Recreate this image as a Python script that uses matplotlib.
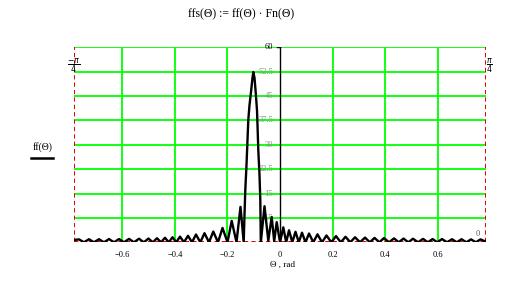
import numpy as np
import matplotlib
matplotlib.use('Agg')
import matplotlib.pyplot as plt
from matplotlib.lines import Line2D

# curve vertices (peaks and nulls of every lobe)
theta = [-0.7854, -0.7657, -0.7467, -0.7276, -0.7086, -0.6895, -0.6705, -0.6514,
         -0.6324, -0.6133, -0.5943, -0.5752, -0.5562, -0.5371, -0.5189, -0.5010,
         -0.4846, -0.4686, -0.4533, -0.4381, -0.4236, -0.4095, -0.3951, -0.3810,
         -0.3657, -0.3505, -0.3352, -0.3200, -0.3036, -0.2876, -0.2705, -0.2541,
         -0.2362, -0.2190, -0.2000, -0.1840, -0.1657, -0.1505, -0.1383,
         # main lobe
         -0.1352, -0.1322, -0.1276, -0.1238, -0.1208, -0.1162, -0.1105, -0.1048,
         -0.1017, -0.0971, -0.0926, -0.0876, -0.0857, -0.0827, -0.0781, -0.0750,
         -0.0731,
         # right side lobes
         -0.0590, -0.0446, -0.0316, -0.0221, -0.0126, 0.0000, 0.0126, 0.0236,
         0.0343, 0.0469, 0.0590, 0.0716, 0.0838, 0.0971, 0.1105, 0.1269,
         0.1429, 0.1600, 0.1771, 0.1954, 0.2133, 0.2316, 0.2495, 0.2678,
         0.2857, 0.3048, 0.3238, 0.3421, 0.3600, 0.3783, 0.3962, 0.4152,
         0.4343, 0.4524, 0.4705, 0.4886, 0.5067, 0.5257, 0.5448, 0.5630,
         0.5810, 0.5990, 0.6171, 0.6362, 0.6552, 0.6735, 0.6914, 0.7097,
         0.7276, 0.7459, 0.7638, 0.7810, 0.7854]
ffs = [0.7, 0.9, 0.0, 0.95, 0.0, 0.95, 0.0, 1.0,
       0.0, 1.0, 0.0, 1.05, 0.0, 1.1, 0.0, 1.15,
       0.0, 1.25, 0.0, 1.4, 0.0, 1.55, 0.0, 1.75,
       0.0, 2.0, 0.0, 2.4, 0.0, 2.8, 0.0, 3.3,
       0.0, 4.4, 0.0, 6.6, 0.0, 10.9, 0.0,
       8.4, 16.1, 23.8, 31.5, 37.6, 42.2, 46.2, 50.6,
       52.4, 50.6, 46.2, 40.6, 36.1, 28.4, 20.7, 13.0,
       0.0,
       11.1, 0.5, 7.8, 0.3, 6.2, 0.0, 4.6, 0.0,
       3.7, 0.0, 3.25, 0.0, 2.95, 0.0, 2.7, 0.0,
       2.45, 0.0, 2.1, 0.0, 1.9, 0.0, 1.7, 0.0,
       1.55, 0.0, 1.45, 0.0, 1.35, 0.0, 1.3, 0.0,
       1.2, 0.0, 1.15, 0.0, 1.1, 0.0, 1.05, 0.0,
       1.0, 0.0, 1.0, 0.0, 0.95, 0.0, 0.95, 0.0,
       0.9, 0.0, 0.9, 0.3, 0.5]

x_ticks = [-0.6, -0.4, -0.2, 0, 0.2, 0.4, 0.6]
x_labels = ['\u22120.6', '\u22120.4', '\u22120.2', '0', '0.2', '0.4', '0.6']
y_ticks = [7.5, 15, 22.5, 30, 37.5, 45, 52.5, 60]
y_labels = ['7.5', '15', '22.5', '30', '37.5', '45', '52.5']
x_min, x_max = -np.pi / 4, np.pi / 4
y_min, y_max = 0, 60

plt.rcParams['font.family'] = ['Liberation Serif', 'DejaVu Serif']
fig = plt.figure(figsize=(5.09, 2.82), dpi=100)
ax = fig.add_axes([0.145, 0.1408, 0.8102, 0.6915])
ax.set_xlim(x_min, x_max)
ax.set_ylim(y_min, y_max)
for s in ax.spines.values():
    s.set_visible(False)
ax.set_xticks([])
ax.set_yticks([])

green = '#00ff00'
for v in y_ticks:
    ax.axhline(v, color=green, lw=1.3, zorder=1)
for t in x_ticks:
    if t != 0:
        ax.axvline(t, color=green, lw=1.3, zorder=1)

# y axis through zero
ax.axvline(0, color='black', lw=1.0, zorder=2)
ax.plot([-0.012, 0.0], [60, 60], color='black', lw=1.0, zorder=2)

# red dashed markers
red = '#e00000'
dash = (0, (2.2, 1.6))
ax.axhline(0, color=red, lw=1.4, ls=dash, zorder=3)
ax.axvline(x_min, color=red, lw=1.4, ls=dash, zorder=3)
ax.axvline(x_max, color=red, lw=1.4, ls=dash, zorder=3)

ax.plot(theta, ffs, color='black', lw=1.7, zorder=4, clip_on=True)

# tick labels
for t, lab in zip(x_ticks, x_labels):
    ax.text(t, -3.8, lab, ha='center', va='center', fontsize=6)
for v, lab in zip(y_ticks[:-1], y_labels):
    ax.text(-0.027, v, lab, ha='right', va='center', fontsize=6, color='#8a8a8a')
ax.text(-0.027, 60, '60', ha='right', va='center', fontsize=6, color='black')
ax.text(0.752, 2.4, '0', ha='center', va='center', fontsize=6, color='#555555')

# marker labels
ax.text(x_min, 54.5, r'$\frac{-\pi}{4}$', ha='center', va='center', fontsize=8)
ax.text(x_max + 0.012, 54.5, r'$\frac{\pi}{4}$', ha='center', va='center', fontsize=8)

ax.text(0.008, -7.0, '\u0398 , rad', ha='center', va='center', fontsize=6.5)

fig.text(43 / 509, 1 - 147 / 282, 'ff(\u0398)', ha='center', va='center', fontsize=7)
fig.add_artist(Line2D([31 / 509, 53 / 509], [1 - 157.5 / 282, 1 - 157.5 / 282],
                      color='black', lw=1.8))

fig.text(241 / 509, 1 - 14 / 282, 'ffs(\u0398) := ff(\u0398) \u00b7 Fn(\u0398)',
         ha='center', va='center', fontsize=8.5)

fig.savefig('out.png', dpi=100)
